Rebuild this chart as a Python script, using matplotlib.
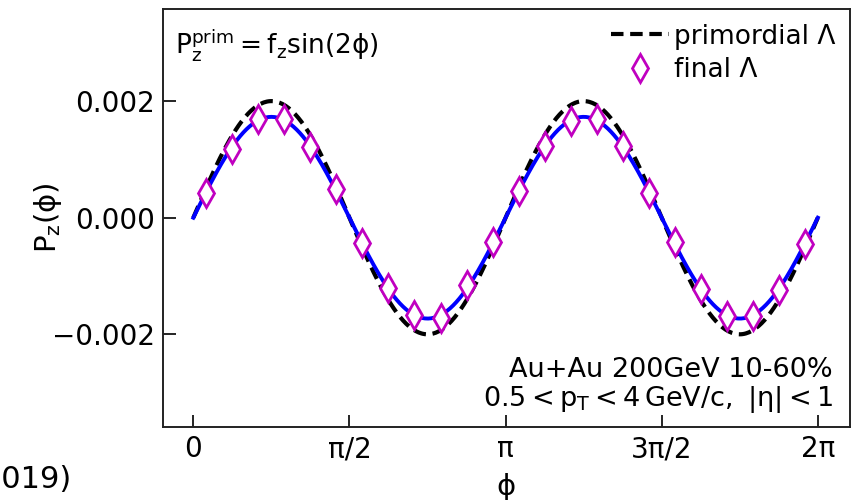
import numpy as np
import matplotlib
matplotlib.use("Agg")
import matplotlib.pyplot as plt

plt.rcParams['mathtext.default'] = 'regular'
plt.rcParams['font.family'] = ['DejaVu Sans']

# Data
phi_centers_frac = [0.5, 1.5, 2.5, 3.5, 4.5, 5.5, 6.5, 7.5, 8.5, 9.5, 10.5, 11.5,
                    12.5, 13.5, 14.5, 15.5, 16.5, 17.5, 18.5, 19.5, 20.5, 21.5, 22.5, 23.5]  # in units of pi/12
final_vals = [0.00042, 0.00118, 0.00169, 0.00169, 0.00121, 0.00049,
              -0.00043, -0.00121, -0.00167, -0.00172, -0.00116, -0.00042,
              0.00046, 0.00123, 0.00166, 0.00169, 0.00123, 0.00042,
              -0.00042, -0.00122, -0.00168, -0.00168, -0.00124, -0.00045]
fz_prim = 0.0020      # amplitude of primordial curve
fz_final = 0.00173    # amplitude of fitted final curve
xtick_vals = [0, np.pi/2, np.pi, 3*np.pi/2, 2*np.pi]
xtick_labels = ['0', 'π/2', 'π', '3π/2', '2π']
ytick_vals = [-0.002, 0.0, 0.002]
ytick_labels = ['−0.002', '0.000', '0.002']

phi_pts = np.array(phi_centers_frac) * np.pi / 12
phi = np.linspace(0, 2*np.pi, 400)

fig = plt.figure(figsize=(8.54, 5.0), dpi=100)
ax = fig.add_axes([163/854, 1-427/500, (850-163)/854, (427-9)/500])

ax.plot(phi, fz_prim*np.sin(2*phi), ls=(0, (3.0, 1.6)), color='black', lw=3, label='primordial Λ', zorder=2)
ax.plot(phi, fz_final*np.sin(2*phi), color='#0000ff', lw=2.8, zorder=3)
ax.plot(phi_pts, final_vals, ls='none', marker='d', ms=14, mew=2, mec='#c000c0', mfc='white',
        label='final Λ', zorder=4)

ax.set_xlim(-0.305, 6.607)
ax.set_ylim(-0.00359, 0.00358)
ax.set_xticks(xtick_vals)
ax.set_xticklabels(xtick_labels)
ax.set_yticks(ytick_vals)
ax.set_yticklabels(ytick_labels)
ax.tick_params(direction='in', length=9, width=1.2, labelsize=20, pad=6)
for s in ax.spines.values():
    s.set_linewidth(1.4)
    s.set_color('#222222')

ax.set_xlabel('ϕ', fontsize=21, labelpad=7)
ax.set_ylabel(r'$P_z(\phi)$', fontsize=21, labelpad=-9)

ax.text(0.018, 0.913, r'$P_z^{prim} = f_z sin(2\phi)$', transform=ax.transAxes,
        fontsize=19, ha='left', va='center')
ax.text(0.975, 0.137, 'Au+Au 200GeV 10-60%', transform=ax.transAxes,
        fontsize=19.5, ha='right', va='center')
ax.text(0.975, 0.065, r'$0.5 < p_T < 4\,GeV/c,\ |\eta| < 1$', transform=ax.transAxes,
        fontsize=19.5, ha='right', va='center')

leg = ax.legend(loc='upper right', frameon=False, fontsize=19, handlelength=2.2,
                handletextpad=0.2, borderaxespad=0.15, labelspacing=0.3)

fig.text(72/854, 1-488/500, '(2019)', fontsize=22, ha='right', va='baseline')

fig.savefig('out.png', dpi=100)
